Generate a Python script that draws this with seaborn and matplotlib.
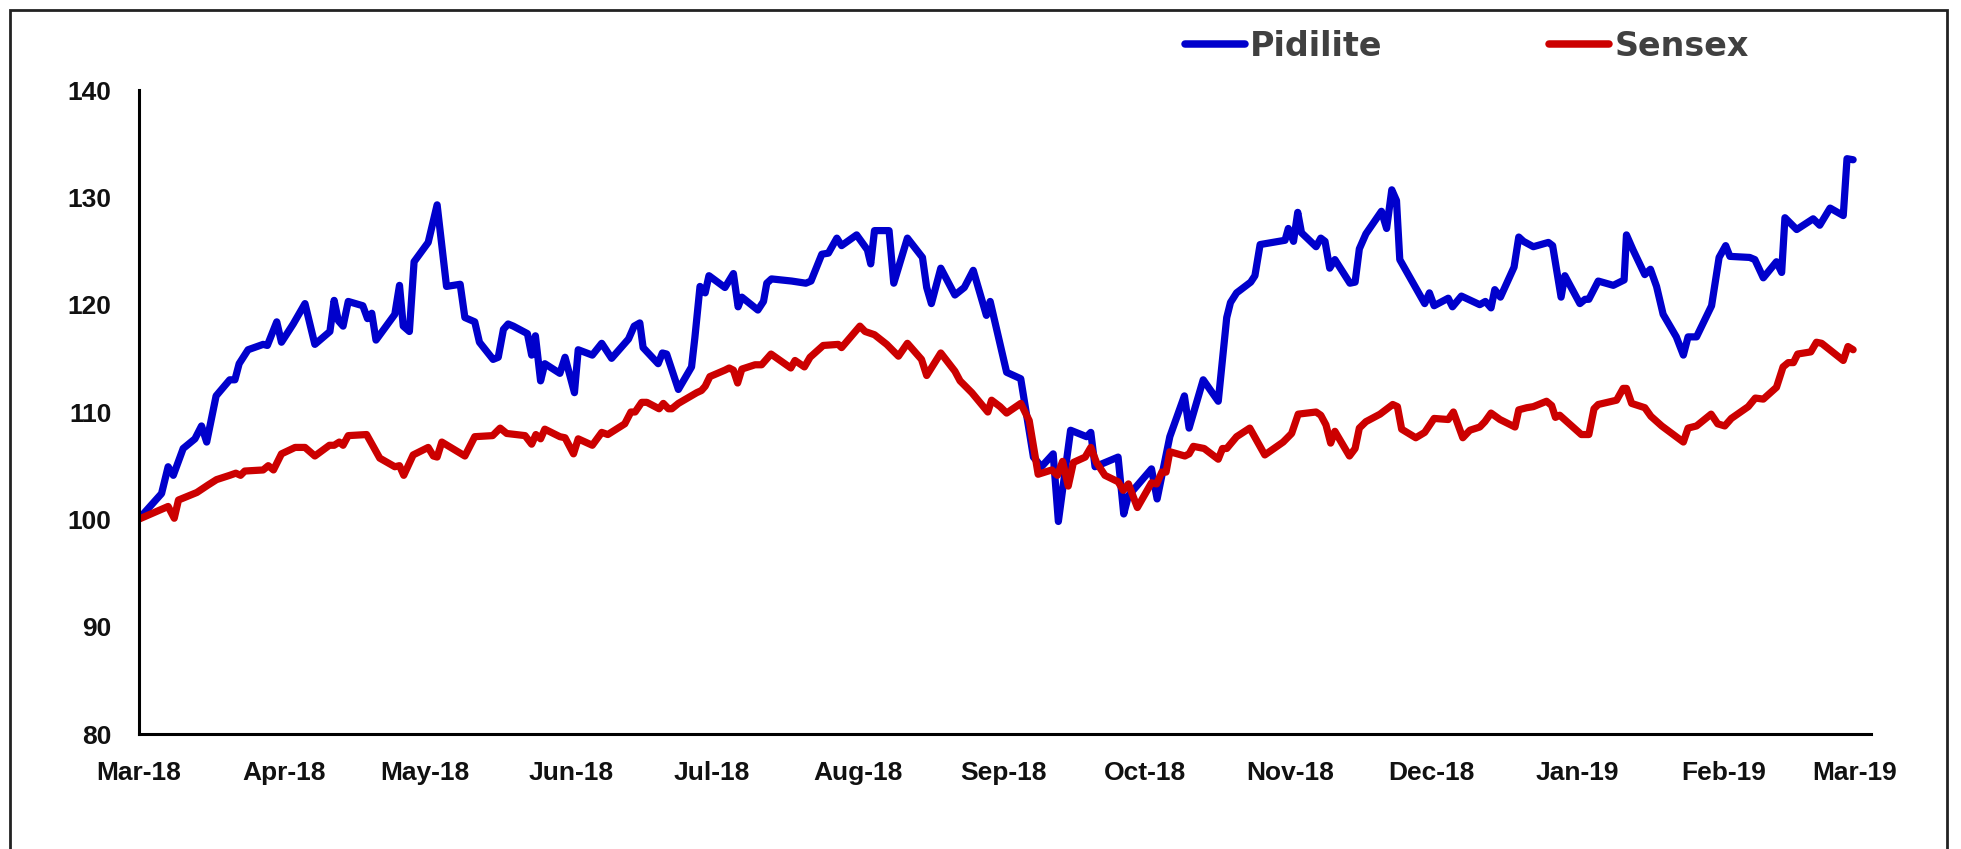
import pandas as pd
import matplotlib
matplotlib.use("Agg")
import matplotlib.pyplot as plt
import matplotlib.dates as mdates
import seaborn as sns
from matplotlib.lines import Line2D
from matplotlib.patches import Rectangle

# days since 1 Mar 2018, rebased index (start = 100)
pidilite_day = [0, 4.9, 6.3, 7.4, 9.5, 12.0, 13.4, 14.5, 16.5, 19.4, 20.5, 21.4, 23.3, 26.5, 27.4,
                29.4, 30.4, 32.9, 35.4, 37.5, 40.7, 41.6, 42.5, 43.5, 44.6, 47.7, 48.7, 49.6, 50.5,
                54.5, 55.5, 56.3, 57.6, 58.6, 61.6, 63.5, 65.5, 68.4, 69.4, 71.5, 72.5, 75.4, 76.5,
                77.6, 78.6, 79.7, 82.7, 83.6, 84.4, 85.5, 86.4, 89.6, 90.7, 92.7, 93.5, 96.5, 98.5,
                100.6, 104.2, 105.4, 106.6, 107.3, 110.5, 111.4, 112.3, 114.8, 117.6, 118.3, 119.4,
                120.5, 121.3, 124.7, 126.5, 127.5, 128.3, 131.7, 132.9, 133.6, 134.6, 138.9, 141.9,
                143.0, 145.3, 146.7, 148.5, 149.5, 152.7, 155.0, 155.7, 156.5, 159.6, 160.6, 163.5,
                166.7, 167.6, 168.6, 170.6, 173.6, 175.6, 177.5, 180.3, 181.1, 184.6, 187.6, 190.3,
                192.0, 194.5, 195.6, 198.2, 201.6, 202.5, 203.4, 208.3, 209.5, 210.5, 215.4, 216.6,
                219.3, 222.4, 223.4, 226.4, 229.6, 231.4, 232.2, 233.5, 236.5, 237.4, 238.5, 243.8,
                244.5, 245.6, 246.5, 247.3, 250.4, 251.4, 252.3, 253.3, 254.4, 257.6, 258.7, 259.6,
                261.0, 264.3, 265.4, 266.5, 267.5, 268.2, 273.5, 274.5, 275.5, 278.5, 279.4, 281.3,
                285.2, 286.4, 287.6, 288.4, 289.6, 292.5, 293.5, 294.5, 296.6, 299.8, 300.7, 302.5,
                303.3, 306.5, 307.6, 308.4, 310.4, 313.6, 315.9, 316.4, 317.8, 320.3, 321.5, 322.8,
                324.2, 327.0, 328.5, 329.5, 331.3, 334.5, 336.1, 337.5, 338.4, 342.6, 343.7, 345.5,
                348.3, 349.4, 350.1, 352.6, 356.1, 357.5, 359.7, 362.5, 363.3, 364.6]
pidilite_val = [100.0, 102.4, 104.9, 104.1, 106.6, 107.5, 108.7, 107.2, 111.5, 113.0, 113.0, 114.5,
                115.8, 116.3, 116.2, 118.4, 116.5, 118.2, 120.1, 116.3, 117.5, 120.4, 118.5, 118.0,
                120.3, 119.9, 118.7, 119.2, 116.7, 119.1, 121.8, 118.0, 117.5, 124.0, 125.8, 129.3,
                121.7, 121.9, 118.8, 118.4, 116.5, 114.9, 115.1, 117.7, 118.2, 118.0, 117.3, 115.3,
                117.1, 112.9, 114.5, 113.6, 115.1, 111.8, 115.8, 115.3, 116.4, 115.0, 116.8, 118.0,
                118.3, 116.0, 114.5, 115.5, 115.4, 112.1, 114.2, 116.9, 121.7, 121.1, 122.7, 121.6,
                122.9, 119.8, 120.7, 119.5, 120.3, 122.0, 122.4, 122.2, 122.0, 122.2, 124.7, 124.8,
                126.2, 125.5, 126.5, 125.1, 123.8, 126.9, 126.9, 122.0, 126.2, 124.4, 121.6, 120.1,
                123.4, 120.9, 121.6, 123.2, 119.0, 120.3, 113.7, 113.1, 105.8, 104.9, 106.1, 99.8,
                108.3, 107.7, 108.1, 104.9, 105.8, 100.5, 102.2, 104.7, 101.9, 107.7, 111.5, 108.5,
                113.0, 111.0, 118.8, 120.2, 121.1, 122.1, 122.7, 125.6, 126.0, 127.1, 125.9, 128.6,
                126.7, 125.4, 126.2, 125.9, 123.4, 124.2, 122.0, 122.1, 125.2, 126.6, 128.7, 127.1,
                130.7, 129.7, 124.2, 120.1, 121.1, 119.9, 120.6, 119.8, 120.8, 120.0, 120.3, 119.7,
                121.4, 120.7, 123.5, 126.3, 125.9, 125.4, 125.8, 125.5, 120.7, 122.7, 120.1, 120.5,
                120.5, 122.2, 121.8, 122.3, 126.5, 125.1, 122.8, 123.3, 121.7, 119.1, 117.0, 115.3,
                117.0, 117.0, 119.9, 124.4, 125.5, 124.5, 124.4, 124.2, 122.5, 124.0, 123.0, 128.1,
                127.0, 128.0, 127.4, 129.0, 128.3, 133.6, 133.5]

sensex_day = [0, 6.3, 7.6, 8.5, 12.4, 14.8, 16.6, 19.4, 20.7, 21.7, 22.6, 26.5, 27.6, 28.7, 30.4,
              33.3, 35.4, 37.5, 40.6, 41.6, 42.7, 43.5, 44.6, 48.5, 51.3, 54.5, 55.5, 56.4, 58.4,
              61.6, 62.7, 63.5, 64.5, 69.4, 71.5, 75.3, 76.9, 78.3, 82.2, 83.6, 84.5, 85.5, 86.4,
              89.6, 90.7, 92.5, 93.5, 96.5, 98.5, 99.8, 103.4, 104.7, 105.6, 107.0, 108.1, 110.7,
              111.6, 112.7, 113.4, 114.8, 118.7, 119.7, 120.5, 121.5, 124.7, 125.6, 126.5, 127.4,
              128.3, 131.1, 132.5, 134.5, 138.7, 139.6, 141.6, 142.8, 145.6, 148.8, 149.5, 153.4,
              154.5, 156.5, 159.1, 161.6, 163.5, 166.5, 167.6, 170.6, 173.6, 174.7, 177.2, 180.6,
              181.4, 183.2, 184.6, 187.6, 189.4, 191.3, 194.2, 195.4, 196.5, 197.7, 198.8, 201.3,
              202.5, 203.7, 205.5, 208.3, 209.4, 210.5, 212.4, 215.4, 216.5, 217.6, 218.5, 219.3,
              222.5, 223.4, 224.3, 226.6, 229.6, 230.5, 231.4, 233.5, 236.3, 239.5, 243.4, 245.2,
              246.6, 250.4, 251.4, 252.5, 253.5, 254.4, 257.5, 258.7, 259.6, 261.0, 264.0, 266.7,
              267.7, 268.6, 271.6, 273.5, 275.5, 278.5, 279.6, 281.6, 283.1, 285.2, 286.3, 287.6,
              289.5, 292.7, 293.5, 295.2, 296.6, 299.4, 300.5, 301.3, 302.2, 306.8, 308.4, 309.5,
              310.4, 314.3, 315.7, 316.4, 317.5, 320.3, 321.6, 323.9, 328.5, 329.5, 331.3, 334.4,
              335.8, 337.3, 338.7, 342.3, 343.8, 345.5, 348.3, 349.7, 350.8, 351.9, 352.8, 355.6,
              356.8, 357.9, 362.5, 363.5, 364.6]
sensex_val = [100.0, 101.2, 100.1, 101.8, 102.5, 103.2, 103.7, 104.1, 104.3, 104.1, 104.5, 104.6,
              105.0, 104.6, 106.1, 106.7, 106.7, 105.9, 106.9, 106.9, 107.2, 106.9, 107.8, 107.9,
              105.7, 104.9, 105.0, 104.1, 106.0, 106.7, 105.9, 105.8, 107.2, 105.9, 107.7, 107.8,
              108.5, 108.0, 107.8, 107.0, 107.9, 107.5, 108.4, 107.7, 107.6, 106.1, 107.5, 106.9,
              108.1, 107.9, 108.9, 110.0, 110.0, 110.9, 110.9, 110.3, 110.8, 110.3, 110.3, 110.8,
              111.8, 112.0, 112.4, 113.3, 113.9, 114.1, 113.9, 112.7, 114.0, 114.4, 114.4, 115.4,
              114.1, 114.8, 114.2, 115.1, 116.2, 116.3, 116.0, 118.0, 117.5, 117.2, 116.3, 115.2,
              116.4, 114.9, 113.4, 115.5, 113.8, 112.9, 111.8, 110.0, 111.1, 110.5, 109.9, 110.8,
              109.2, 104.2, 104.6, 104.1, 105.4, 103.1, 105.3, 105.8, 106.7, 105.3, 104.1, 103.5,
              102.7, 103.3, 101.1, 103.4, 103.3, 104.4, 104.4, 106.3, 105.9, 106.1, 106.8, 106.6,
              105.6, 106.6, 106.6, 107.7, 108.5, 106.0, 107.2, 108.0, 109.8, 110.0, 109.7, 108.8,
              107.1, 108.2, 105.9, 106.6, 108.5, 109.1, 109.8, 110.7, 110.5, 108.4, 107.6, 108.1,
              109.4, 109.3, 110.0, 107.6, 108.3, 108.6, 109.1, 109.9, 109.3, 108.6, 110.2, 110.4,
              110.5, 111.0, 110.6, 109.5, 109.7, 107.9, 107.9, 110.3, 110.7, 111.1, 112.2, 112.2,
              110.8, 110.4, 109.6, 108.7, 107.2, 108.5, 108.7, 109.8, 108.9, 108.7, 109.4, 110.5,
              111.3, 111.2, 112.3, 114.2, 114.6, 114.6, 115.4, 115.6, 116.5, 116.4, 114.8, 116.1,
              115.8]

series_names = ["Pidilite", "Sensex"]
series_colors = {"Pidilite": "#0000CC", "Sensex": "#CC0000"}
y_ticks = [80, 90, 100, 110, 120, 130, 140]

start = pd.Timestamp("2018-03-01")
df = pd.concat([
    pd.DataFrame({"date": start + pd.to_timedelta(pidilite_day, unit="D"),
                  "value": pidilite_val, "series": "Pidilite"}),
    pd.DataFrame({"date": start + pd.to_timedelta(sensex_day, unit="D"),
                  "value": sensex_val, "series": "Sensex"}),
], ignore_index=True)

sns.set_style("white")
plt.rcParams["font.family"] = ["DejaVu Sans"]

W, H = 1961, 849
fig = plt.figure(figsize=(W / 100, H / 100), dpi=100)
ax = fig.add_axes([138.5 / W, 1 - 734 / H, (1871 - 138.5) / W, (734 - 90) / H])

sns.lineplot(data=df, x="date", y="value", hue="series", hue_order=series_names,
             palette=series_colors, estimator=None, sort=False, linewidth=5.2,
             legend=False, ax=ax)
for ln in ax.lines:
    ln.set_solid_joinstyle("round")
    ln.set_solid_capstyle("round")

ax.set_xlim(start, start + pd.Timedelta(days=368.4))
ax.set_ylim(80, 140)
ax.set_yticks(y_ticks)
ax.xaxis.set_major_locator(mdates.MonthLocator())
ax.xaxis.set_major_formatter(mdates.DateFormatter("%b-%y"))
ax.set_xlabel("")
ax.set_ylabel("")

for side in ["top", "right"]:
    ax.spines[side].set_visible(False)
for side in ["left", "bottom"]:
    ax.spines[side].set_linewidth(2.2)
    ax.spines[side].set_color("black")
ax.tick_params(axis="both", direction="out", length=6.5, width=1.5, color="black",
               labelcolor="#111111")
ax.tick_params(axis="y", pad=13)
ax.tick_params(axis="x", pad=13)
for lab in ax.get_xticklabels() + ax.get_yticklabels():
    lab.set_fontfamily("Liberation Sans")
    lab.set_fontweight("bold")
    lab.set_fontsize(19)

handles = [Line2D([0], [0], color=series_colors[s], lw=5.4, solid_capstyle="round")
           for s in series_names]
fig.legend(handles, series_names, loc="center left",
           bbox_to_anchor=(1185 / W, 1 - 46 / H), ncol=2, frameon=False,
           prop={"weight": "bold", "size": 24}, labelcolor="#404040",
           handlelength=1.8, handletextpad=0.15, columnspacing=5.0,
           borderpad=0, borderaxespad=0)

# outer chart border (bottom edge falls outside the image)
fig.patches.append(Rectangle((10 / W, -0.05), (1947 - 10) / W, 1.05 - 10 / H,
                             transform=fig.transFigure, fill=False,
                             edgecolor="#222222", linewidth=2))

fig.savefig("out.png", dpi=100)
